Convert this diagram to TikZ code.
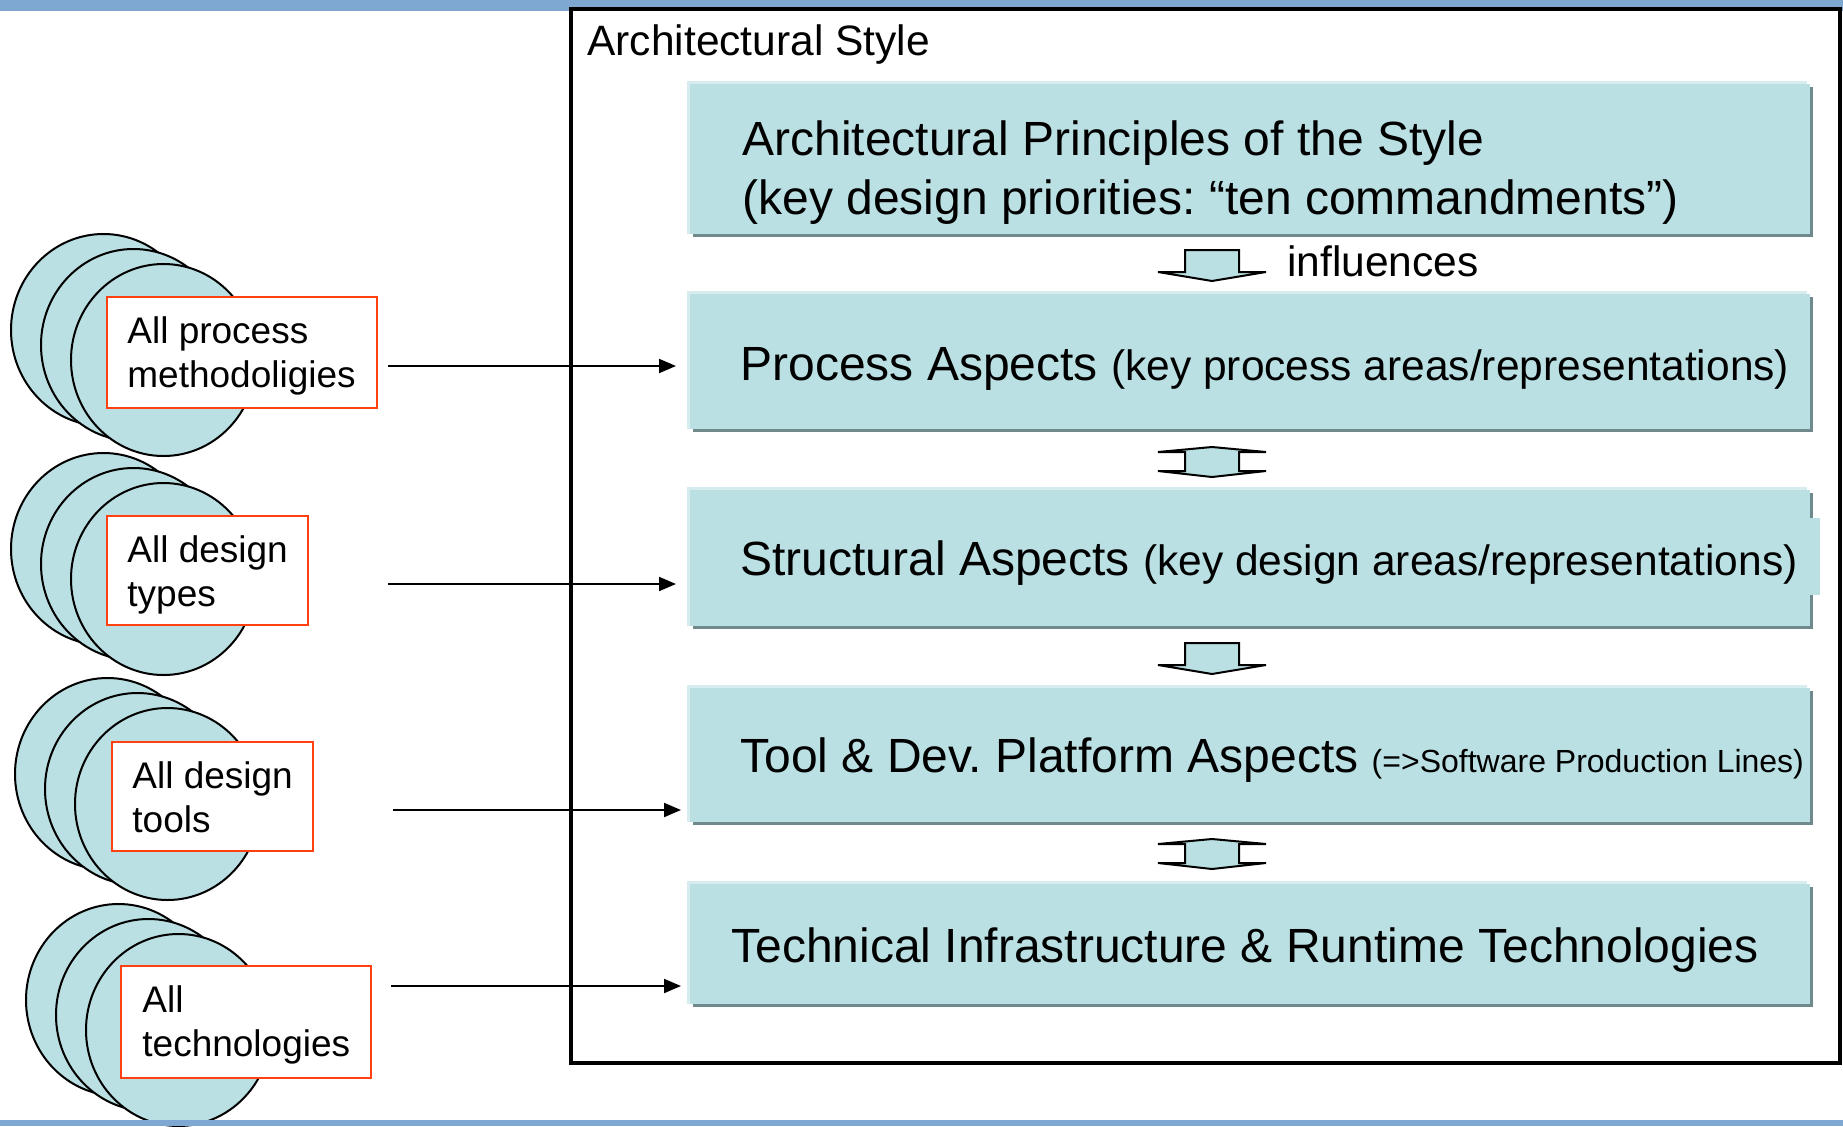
\documentclass[tikz,border=0pt]{standalone}
\usepackage{fontspec}
\setmainfont{Liberation Sans}
\frenchspacing
\usetikzlibrary{shadows,arrows.meta}
\definecolor{boxc}{RGB}{186,224,227}
\definecolor{hlc}{RGB}{214,236,238}
\definecolor{shc}{RGB}{112,137,140}
\definecolor{redc}{RGB}{255,64,16}
\definecolor{bandc}{RGB}{126,168,210}
\begin{document}
\begin{tikzpicture}[x=0.5pt,y=-0.5pt,
  layer/.style={fill=boxc, draw=none, inner sep=0pt, outer sep=0pt, anchor=north west,
    drop shadow={shadow xshift=1.6pt, shadow yshift=-1.6pt, fill=shc, opacity=1}},
  lbl/.style={draw=redc, line width=1pt, fill=white, inner sep=0pt, outer sep=0pt, anchor=north west},
  disc/.style={draw=black, line width=1pt, fill=boxc},
  feed/.style={line width=1pt, -{Triangle[length=8.5pt,width=7pt]}},
  blockarrow/.style={draw=black, line width=1pt, fill=boxc, line join=miter},
  big/.style={font=\fontsize{24}{29}\selectfont, anchor=base west, inner sep=0pt},
  mid/.style={font=\fontsize{21.25}{26}\selectfont, anchor=base west, inner sep=0pt},
  lbltxt/.style={font=\fontsize{18.5}{22}\selectfont, anchor=base west, inner sep=0pt},
  downarr/.pic={\draw[blockarrow] (-27,0) -- (27,0) -- (27,22) -- (54,22) -- (0,31) -- (-54,22) -- (-27,22) -- cycle;},
  duoarr/.pic={\draw[blockarrow] (0,0) -- (54,5) -- (27,5) -- (27,24) -- (54,24) -- (0,30) -- (-54,24) -- (-27,24) -- (-27,5) -- (-54,5) -- cycle;}
]
\useasboundingbox (0,0) rectangle (1843,1126);

% background band (top)
\fill[bandc] (0,0) rectangle (1843,11);

% stacks of discs
\foreach \cx/\cy in {103.5/330, 103.5/549, 107.5/774, 118.5/1000}{
  \foreach \i in {0,1,2}{
    \draw[disc] (\cx+30*\i, \cy+15*\i) ellipse [x radius=46.25pt, y radius=48pt];
  }
}
% background band (bottom)
\fill[bandc] (0,1120) rectangle (1843,1126);

% red labels
\node[lbl, minimum width=135pt, minimum height=55.5pt] (l1) at (107,297) {};
\node[lbl, minimum width=100.5pt, minimum height=54.5pt] (l2) at (107,516) {};
\node[lbl, minimum width=100.5pt, minimum height=54.5pt] (l3) at (112,742) {};
\node[lbl, minimum width=125pt, minimum height=56pt] (l4) at (121,966) {};
\node[lbltxt] (l1a) at (127,343) {All process};
\node[lbltxt] (l1b) at (127,387) {methodoligies};
\node[lbltxt] (l2a) at (127,562) {All design};
\node[lbltxt] (l2b) at (127,606) {types};
\node[lbltxt] (l3a) at (132,788) {All design};
\node[lbltxt] (l3b) at (132,832) {tools};
\node[lbltxt] (l4a) at (142,1012) {All};
\node[lbltxt] (l4b) at (142,1056) {technologies};

% frame
\node[draw=black, line width=2pt, inner sep=0pt, outer sep=0pt, anchor=north west,
      minimum width=634.5pt, minimum height=527pt] (frame) at (570.5,9) {};
\node[mid] (title) at (587,55) {Architectural Style};

% layer boxes
\node[layer, minimum width=560pt, minimum height=75pt] (b1) at (690,84) {};
\node[layer, minimum width=560pt, minimum height=67.5pt] (b2) at (690,294) {};
\node[layer, minimum width=560pt, minimum height=68pt] (b3) at (690,490) {};
\node[layer, minimum width=560pt, minimum height=67pt] (b4) at (690,688) {};
\node[layer, minimum width=560pt, minimum height=60pt] (b5) at (690,884) {};
\foreach \b in {b1,b2,b3,b4,b5}{
  \draw[hlc, line width=1.5pt] ([xshift=-0.75pt]\b.south west) -- ([xshift=-0.75pt,yshift=0.75pt]\b.north west) -- ([xshift=-1.5pt,yshift=0.75pt]\b.north east);
}
\fill[boxc] (1808,518) rectangle (1820,595);

% texts in boxes
\node[big] (t1a) at (742,155) {Architectural Principles of the Style};
\node[big] (t1b) at (742,214) {(key design priorities: “ten commandments”)};
\node[big] (t2) at (740,380) {Process Aspects \fontsize{21.25}{26}\selectfont(key process areas/representations)};
\node[big] (t3) at (740,575) {Structural Aspects \fontsize{21.25}{26}\selectfont(key design areas/representations)};
\node[big] (t4) at (740,772) {Tool \& Dev. Platform Aspects \fontsize{16}{19}\selectfont(=>Software Production Lines)};
\node[big] (t5) at (731,962) {Technical Infrastructure \& Runtime Technologies};

% block arrows between layers
\pic (d1) at (1212,250) {downarr};
\node[mid] (infl) at (1287,276) {influences};
\pic (d2) at (1212,447) {duoarr};
\pic (d3) at (1212,643) {downarr};
\pic (d4) at (1212,839) {duoarr};

% feed arrows
\coordinate (s1) at (388,366); \coordinate (e1) at (676,366);
\coordinate (s2) at (388,584); \coordinate (e2) at (676,584);
\coordinate (s3) at (393,810); \coordinate (e3) at (681,810);
\coordinate (s4) at (391,986); \coordinate (e4) at (681,986);
\draw[feed] (s1) -- (e1);
\draw[feed] (s2) -- (e2);
\draw[feed] (s3) -- (e3);
\draw[feed] (s4) -- (e4);
\end{tikzpicture}
\end{document}
